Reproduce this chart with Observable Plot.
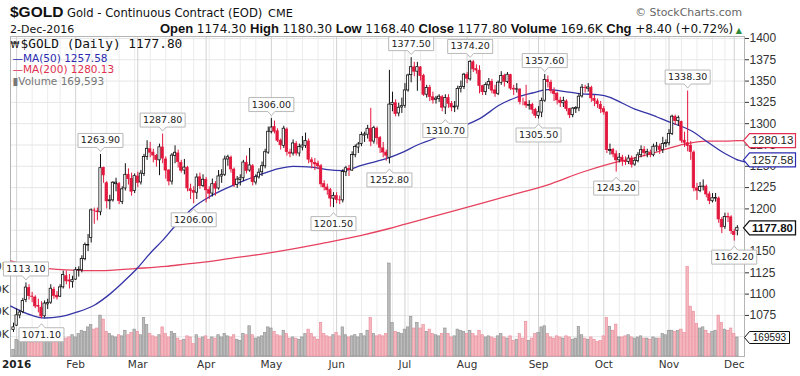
<!DOCTYPE html>
<html><head><meta charset="utf-8">
<script src="https://cdn.jsdelivr.net/npm/d3@7"></script>
<script src="https://cdn.jsdelivr.net/npm/@observablehq/plot@0.6"></script>
<style>
body{margin:0;background:#fff;width:800px;height:376px;overflow:hidden;position:relative;}
#hdr{position:absolute;left:0;top:0;}
#chart{position:absolute;left:0;top:26px;width:800px;height:350px;}
#chart svg{position:absolute;left:0;top:0;}
</style></head><body>
<svg id="hdr" width="800" height="36" xmlns="http://www.w3.org/2000/svg">
  <text x="10" y="17" style="font:bold 15.5px 'Liberation Sans',Arial,sans-serif" fill="#111">$GOLD</text>
  <text x="67" y="17" style="font:11.6px 'DejaVu Sans',sans-serif" fill="#111">Gold - Continuous Contract (EOD)</text>
  <text x="268" y="17" style="font:11.3px 'DejaVu Sans',sans-serif" fill="#111">CME</text>
  <text x="742" y="16" text-anchor="end" style="font:10.9px 'DejaVu Sans',sans-serif" fill="#666">© StockCharts.com</text>
  <text x="10" y="33" style="font:11px 'DejaVu Sans',sans-serif" fill="#111">2-Dec-2016</text>
  <text id="quote" x="742" y="33" text-anchor="end" style="font:12px 'DejaVu Sans',sans-serif" fill="#111"></text>
</svg>
<div id="chart"></div>
<script>
// ---------- data ----------
const symbol = "$GOLD";
const lastDate = "2-Dec-2016";
const quoteLabels = ["Open", "High", "Low", "Close", "Volume", "Chg"];
const quoteValues = ["1174.30", "1180.30", "1168.40", "1177.80", "169.6K", "+8.40 (+0.72%)"];
const holidays = ["2016-01-01","2016-01-18","2016-02-15","2016-03-25","2016-05-30","2016-07-04","2016-09-05","2016-11-24"];
const monthLabels = ["2016","Feb","Mar","Apr","May","Jun","Jul","Aug","Sep","Oct","Nov","Dec"];

const openP = [
1058,1063,1075,1079,1093,1107,1097,1096,1086,1084,
1074,1088,1090,1105,1098,1097,1108,1121,1116,1114,
1117,1128,1128,1141,1157,1166,1198,1197,1196,1248,
1230,1209,1210,1229,1229,1208,1224,1240,1235,1221,
1238,1231,1241,1261,1270,1266,1262,1257,1272,1258,
1245,1232,1262,1265,1254,1245,1248,1223,1221,1219,
1237,1227,1234,1222,1218,1229,1224,1238,1240,1258,
1260,1246,1228,1234,1236,1254,1245,1250,1231,1237,
1243,1250,1266,1290,1296,1291,1280,1274,1293,1266,
1265,1276,1265,1272,1274,1279,1257,1254,1253,1250,
1229,1225,1222,1212,1215,1210,1210,1243,1247,1245,
1263,1272,1276,1286,1287,1294,1279,1294,1283,1271,
1266,1260,1322,1324,1312,1319,1321,1339,1357,1366,
1361,1366,1356,1334,1342,1331,1328,1329,1331,1319,
1330,1323,1319,1320,1341,1343,1357,1352,1372,1364,
1362,1344,1337,1345,1349,1339,1335,1348,1356,1349,
1357,1341,1340,1340,1325,1325,1321,1322,1316,1309,
1313,1327,1351,1348,1338,1335,1327,1324,1326,1317,
1310,1317,1318,1332,1342,1341,1342,1329,1326,1322,
1317,1313,1268,1269,1264,1257,1260,1256,1255,1259,
1252,1256,1263,1269,1265,1266,1263,1273,1273,1269,
1276,1277,1288,1308,1303,1302,1280,1277,1274,1266,
1224,1221,1226,1226,1217,1209,1212,1212,1187,1179,
1190,1190,1173,1174.3];
const highP = [
1066,1082.5,1081,1095,1113.1,1111,1102,1098,1094,1091,
1092,1094,1111,1108,1103,1111,1127,1127,1123,1121,
1131,1132,1145,1160,1170,1200,1201,1201,1263.9,1249,
1232,1216,1232,1236,1231,1226,1253,1247,1242,1241,
1243,1245,1264,1280,1278,1270,1264,1276,1287.8,1261,
1246,1265,1274,1269,1257,1258,1250,1229,1226,1241,
1242,1240,1237,1226,1235,1232,1245,1246,1262,1263,
1262,1248,1238,1240,1257,1262,1271,1252,1240,1247,
1255,1270,1296,1306,1303,1294,1282,1297,1295,1270,
1281,1279,1276,1285,1289,1282,1260,1259,1256,1252,
1233,1229,1224,1219,1219,1215,1246,1250,1251,1267,
1275,1278,1290,1290,1298,1318,1297,1296,1285,1278,
1269,1362.6,1337,1328,1324,1330,1347,1358,1377.5,1372,
1372,1367,1358,1345,1345,1337,1332,1334,1333,1334,
1334,1326,1326,1344,1350,1359,1360,1374.2,1374,1369,
1368,1345,1348,1353,1352,1345,1350,1361,1358,1360,
1358,1345,1347,1341,1330,1345,1327,1324,1318,1320,
1330,1357.6,1356,1351,1342,1337,1331,1331,1328,1318,
1319,1320,1335,1346,1345,1347,1344,1333,1329,1326,
1320,1314,1276,1271,1268,1265,1263,1261,1263,1262,
1260,1266,1274,1273,1270,1269,1276,1278,1276,1284,
1281,1293,1310,1310,1309,1303,1290,1338.3,1279,1268,
1230,1231,1234,1228,1220,1218,1218,1214,1190,1195,
1195,1192,1176,1180.3];
const lowP = [
1055,1062,1071,1077,1090,1093,1090,1083,1078,1071.1,
1072,1082,1088,1094,1093,1096,1106,1111,1106,1107,
1116,1120,1125,1139,1150,1160,1182,1186,1192,1230,
1200,1199,1208,1220,1205,1205,1221,1228,1215,1218,
1225,1228,1238,1257,1260,1254,1249,1239,1253,1235,
1227,1228,1253,1248,1242,1240,1220,1211,1206,1211,
1223,1225,1207,1211,1214,1215,1222,1230,1238,1250,
1242,1225,1224,1227,1232,1241,1243,1227,1228,1235,
1238,1247,1264,1288,1288,1278,1269,1271,1262,1260,
1262,1262,1261,1268,1271,1253,1247,1245,1246,1225,
1221,1216,1202,1201.5,1206,1205,1207,1238,1238,1244,
1260,1265,1273,1278,1282,1273,1276,1275,1265,1260,
1256,1252.8,1314,1308,1308,1312,1318,1337,1348,1355,
1338,1350,1332,1330,1326,1323,1323,1325,1314,1310.7,
1318,1314,1313,1316,1336,1340,1347,1350,1360,1358,
1335,1333,1333,1340,1335,1331,1333,1345,1343,1347,
1339,1333,1336,1322,1321,1318,1316,1311,1306,1305.5,
1307,1325,1342,1335,1326,1322,1319,1319,1314,1306,
1307,1312,1314,1330,1336,1337,1325,1320,1318,1312,
1310,1265,1263,1260,1243.2,1254,1250,1251,1252,1248,
1250,1254,1260,1261,1260,1260,1261,1267,1264,1265,
1272,1274,1286,1298,1297,1277,1272,1267,1257,1220,
1210,1219,1221,1213,1205,1207,1208,1183,1171,1176,
1184,1170,1162.2,1168.4];
const closeP = [
1061,1075.1,1078.4,1091.9,1107.7,1097.8,1096.9,1085.6,1085.3,1073.7,
1088.9,1089.6,1106.3,1098.0,1096.1,1107.9,1122.5,1115.1,1114.9,1116.4,
1128.0,1128.2,1141.1,1157.5,1157.6,1198.3,1197.9,1196.2,1247.8,1239.4,
1208.9,1210.1,1230.7,1230.8,1209.4,1223.0,1240.0,1235.0,1220.2,1238.4,
1230.6,1241.4,1260.9,1270.5,1266.0,1262.6,1257.4,1272.3,1259.1,1245.0,
1232.3,1262.6,1265.9,1255.0,1244.8,1248.5,1224.1,1220.9,1219.0,1236.8,
1226.9,1234.2,1221.9,1217.9,1229.0,1223.8,1238.1,1240.0,1258.0,1260.6,
1246.4,1227.8,1234.4,1235.8,1254.4,1244.5,1251.0,1231.6,1237.2,1242.5,
1250.1,1266.5,1290.5,1295.5,1290.7,1280.0,1274.7,1294.1,1266.8,1264.8,
1276.8,1265.0,1272.7,1274.3,1279.8,1257.8,1254.6,1252.3,1250.0,1228.8,
1225.3,1221.9,1212.1,1215.3,1210.6,1210.1,1243.3,1247.7,1245.7,1263.2,
1272.7,1275.6,1286.6,1287.4,1294.0,1279.0,1294.8,1283.0,1271.8,1266.2,
1262.5,1322.4,1324.4,1311.3,1318.7,1320.6,1339.0,1356.6,1366.3,1361.0,
1366.3,1356.0,1334.0,1341.8,1331.4,1327.5,1329.5,1331.7,1318.8,1330.2,
1323.4,1319.1,1320.0,1340.8,1343.0,1357.5,1352.8,1372.6,1363.8,1362.4,
1344.4,1337.0,1345.4,1349.0,1338.8,1335.2,1348.1,1356.0,1349.2,1357.4,
1341.2,1340.1,1340.4,1325.6,1325.0,1321.4,1321.8,1316.3,1309.3,1313.4,
1326.7,1351.2,1348.7,1338.5,1334.9,1327.4,1324.3,1326.7,1317.2,1310.0,
1317.7,1318.5,1331.7,1342.3,1341.8,1342.5,1329.7,1326.7,1322.9,1317.1,
1313.3,1269.0,1269.1,1264.0,1257.0,1260.1,1256.0,1254.9,1259.1,1251.9,
1256.5,1262.9,1268.9,1265.6,1266.7,1263.4,1272.9,1273.4,1269.3,1276.2,
1277.3,1288.0,1308.2,1303.2,1306.8,1280.0,1277.6,1274.0,1266.9,1224.3,
1221.4,1225.8,1226.2,1216.9,1209.4,1212.5,1212.7,1187.7,1178.4,1190.6,
1190.4,1173.9,1169.4,1177.8];
const volumeK = [
60,150,140,160,190,170,120,140,150,190,
210,130,200,170,150,130,170,160,170,190,
170,200,230,220,260,280,240,250,365,330,
220,200,180,170,190,180,230,190,210,240,
220,190,345,280,200,180,170,190,260,200,
170,220,200,160,140,150,180,170,110,190,
160,170,180,150,170,160,190,170,200,180,
170,190,150,140,200,190,270,190,160,170,
180,210,260,250,220,190,180,230,200,160,
170,160,150,170,200,240,200,170,150,300,
200,180,170,190,210,180,260,190,170,180,
190,170,200,180,230,345,200,180,190,180,
200,830,300,220,210,200,240,260,355,250,
300,250,280,220,240,200,190,180,200,250,
200,170,180,240,230,220,200,230,200,180,
230,190,170,180,170,160,180,200,170,160,
180,140,150,200,160,310,140,160,200,210,
260,270,200,170,160,180,170,160,180,170,
150,160,265,190,160,150,170,150,130,140,
180,345,265,230,285,170,170,180,190,170,
160,170,180,160,160,150,170,160,160,200,
190,230,230,220,230,240,210,800,445,400,
290,250,260,230,200,220,230,365,300,240,
230,250,200,169.593];

const ma50Idx = [-0.9,6,10,15,20,26,31,37,40,44,48,52,58,63,69,74,80,85,90,96,101,106,112,116,120,125,130,135,140,146,151,156,162,167,172,177,183,188,192,196,200,205,211,218,224,229,233];
const ma50Val = [1086,1075,1072,1073.5,1078.5,1087,1100,1120,1131,1148,1163,1180,1202,1214,1225,1233,1241,1247,1250,1249,1246,1245,1251,1255,1259,1266,1275,1282,1290,1299,1308,1321,1331,1336,1340,1338,1335,1334,1331,1324,1317,1311,1302,1292,1277,1265,1257.58];
const ma200Idx = [-0.9,7,17,28,39,49,56,60,70,80,90,100,112,121,130,140,150,160,173,183,191,199,205,210,216,223,228,233];
const ma200Val = [1139,1132,1128.5,1127.5,1130,1132.5,1135.5,1137,1142,1147,1153,1160,1169,1177,1186,1196,1206,1216,1229.5,1243,1252,1259,1264.5,1270,1276,1279.5,1279.5,1280.13];

const highLabelIdx = [4, 28, 48, 83, 128, 147, 171, 217];
const lowLabelIdx = [9, 58, 103, 121, 139, 169, 194, 232];
const priceTicks = [1075,1100,1125,1150,1175,1200,1225,1250,1275,1300,1325,1350,1375,1400];
const priceGrid = [1050, ...priceTicks];
const volumeTicks = [200000, 400000, 600000, 800000];
const lastVolume = 169593;

// ---------- build tables ----------
const n = closeP.length;
[openP, highP, lowP, volumeK].forEach((a, k) => { if (a.length !== n) throw new Error("length mismatch " + k + ": " + a.length + " vs " + n); });

const tradingDays = [];
for (let d = new Date(Date.UTC(2015, 11, 31)); d <= new Date(Date.UTC(2016, 11, 2)); d.setUTCDate(d.getUTCDate() + 1)) {
  const wd = d.getUTCDay(), s = d.toISOString().slice(0, 10);
  if (wd > 0 && wd < 6 && !holidays.includes(s)) tradingDays.push(new Date(d));
}
if (tradingDays.length !== n) throw new Error("days " + tradingDays.length + " vs " + n);
const monthStarts = [], weekStarts = [];
tradingDays.forEach((d, i) => {
  if (i === 0) return;
  const p = tradingDays[i - 1];
  if (d.getUTCMonth() !== p.getUTCMonth()) monthStarts.push(i);
  else if (d.getUTCDay() <= p.getUTCDay()) weekStarts.push(i);
});
const monthTicks = monthLabels.map((label, k) => ({i: monthStarts[k], label, first: k === 0}));

const RED = "#e3173d", BLACK = "#111";
const candles = closeP.map((c, i) => {
  const up = i === 0 || c >= closeP[i - 1];
  const col = up ? BLACK : RED;
  return {i, o: openP[i], h: highP[i], l: lowP[i], c, v: volumeK[i] * 1000, up, col,
          fill: c > openP[i] ? "#ffffff" : col};
});
const ma50 = ma50Idx.map((i, k) => ({i, v: ma50Val[k]}));
const ma200 = ma200Idx.map((i, k) => ({i, v: ma200Val[k]}));
const hiAnn = highLabelIdx.map(i => ({i, v: highP[i]}));
const loAnn = lowLabelIdx.map(i => ({i, v: lowP[i]}));
const lastClose = closeP[n - 1];
const lastMa50 = ma50Val[ma50Val.length - 1], lastMa200 = ma200Val[ma200Val.length - 1];

// header quote line
const q = document.getElementById("quote");
quoteLabels.forEach((lab, k) => {
  const a = document.createElementNS("http://www.w3.org/2000/svg", "tspan");
  a.setAttribute("style", "font:bold 13px 'Liberation Sans',Arial,sans-serif");
  a.textContent = (k ? " " : "") + lab + " ";
  q.appendChild(a);
  const b = document.createElementNS("http://www.w3.org/2000/svg", "tspan");
  b.textContent = quoteValues[k];
  q.appendChild(b);
});
const tri = document.createElementNS("http://www.w3.org/2000/svg", "tspan");
tri.setAttribute("style", "font:8px 'DejaVu Sans',sans-serif"); tri.setAttribute("fill", "#2e8b3a");
tri.textContent = " ▲"; q.appendChild(tri);

// ---------- plots ----------
const W = 800, H = 350, ML = 10, MR = 56, MT = 10, MB = 20;
const xDomain = [-0.97, 235.3];
const yDomain = [1026.8, 1402.3];
const common = {width: W, height: H, marginLeft: ML, marginRight: MR, marginTop: MT, marginBottom: MB};
const xEdge = xDomain[1];

const calloutDown = {draw(ctx) { const w = 22.5, h = 7, p = 4; ctx.moveTo(-w, -h); ctx.lineTo(w, -h); ctx.lineTo(w, h); ctx.lineTo(3.5, h); ctx.lineTo(0, h + p); ctx.lineTo(-3.5, h); ctx.lineTo(-w, h); ctx.closePath(); }};
const calloutUp = {draw(ctx) { const w = 22.5, h = 7, p = 4; ctx.moveTo(-w, -h); ctx.lineTo(-3.5, -h); ctx.lineTo(0, -h - p); ctx.lineTo(3.5, -h); ctx.lineTo(w, -h); ctx.lineTo(w, h); ctx.lineTo(-w, h); ctx.closePath(); }};
const tagBig = {draw(ctx) { ctx.moveTo(-28, 0); ctx.lineTo(-22, -7); ctx.lineTo(24, -7); ctx.lineTo(24, 7); ctx.lineTo(-22, 7); ctx.closePath(); }};
const tagSmall = {draw(ctx) { ctx.moveTo(-25, 0); ctx.lineTo(-20, -6); ctx.lineTo(20, -6); ctx.lineTo(20, 6); ctx.lineTo(-20, 6); ctx.closePath(); }};

const gridPlot = Plot.plot({
  ...common,
  style: {background: "transparent", fontFamily: "'Liberation Sans', Arial, sans-serif", fontSize: "12px", color: "#333"},
  x: {domain: xDomain, axis: null},
  y: {domain: yDomain, axis: "right", ticks: priceTicks, tickSize: 4, tickPadding: 1, tickFormat: d => String(d), label: null},
  marks: [
    Plot.ruleX(weekStarts, {stroke: "#ececec"}),
    Plot.ruleY(priceGrid, {stroke: "#e6e6e6"}),
    Plot.ruleX(monthStarts, {stroke: "#d2d2d2"}),
    Plot.frame({stroke: "#b4b4b4"}),
    Plot.text(monthTicks.filter(d => d.first), {x: "i", frameAnchor: "bottom", dy: 11, text: "label", fontFamily: "'DejaVu Sans', sans-serif", fontSize: 10.5, fontWeight: "bold", fill: "#222"}),
    Plot.text(monthTicks.filter(d => !d.first), {x: "i", frameAnchor: "bottom", dy: 11, text: "label", fontFamily: "'DejaVu Sans', sans-serif", fontSize: 10.5, fill: "#333"})
  ]
});

const volPlot = Plot.plot({
  ...common,
  style: {background: "transparent", fontFamily: "'DejaVu Sans', sans-serif", fontSize: "11px", color: "#333"},
  x: {domain: xDomain, axis: null},
  y: {domain: [0, 2857143], axis: "left", ticks: volumeTicks, tickSize: 0, tickPadding: 1.5, tickFormat: d => d / 1000 + "K", label: null},
  marks: [
    Plot.rect(candles.filter(d => d.up), {x1: d => d.i - 0.4, x2: d => d.i + 0.4, y1: 0, y2: "v", fill: "#b0b0b0", stroke: "#8e8e8e", strokeWidth: 0.6, fillOpacity: 0.85}),
    Plot.rect(candles.filter(d => !d.up), {x1: d => d.i - 0.4, x2: d => d.i + 0.4, y1: 0, y2: "v", fill: "#f3aab3", stroke: "#e98a9a", strokeWidth: 0.6, fillOpacity: 0.85}),
    Plot.dot([lastVolume], {x: () => xEdge, y: d => d, dx: 25, symbol: tagSmall, fill: "white", stroke: "#111", strokeWidth: 1, r: 5}),
    Plot.text([lastVolume], {x: () => xEdge, y: d => d, dx: 25, text: d => String(d), fontFamily: "'Liberation Sans', Arial, sans-serif", fontSize: 10, fill: "#111"})
  ]
});

const txt = {fontFamily: "'DejaVu Sans', sans-serif", fontSize: 9.5, fill: "#222"};
const pricePlot = Plot.plot({
  ...common,
  style: {background: "transparent", fontFamily: "'DejaVu Sans', sans-serif", fontSize: "11px"},
  x: {domain: xDomain, axis: null},
  y: {domain: yDomain, axis: null},
  color: {type: "identity"},
  marks: [
    Plot.line(ma200, {x: "i", y: "v", stroke: "#e6425f", strokeWidth: 1.3, curve: "monotone-x"}),
    Plot.line([{i: ma200Idx[ma200Idx.length - 1], v: lastMa200}, {i: xEdge, v: lastMa200}], {x: "i", y: "v", stroke: "#e6425f", strokeWidth: 1.3}),
    Plot.line(ma50, {x: "i", y: "v", stroke: "#3434a6", strokeWidth: 1.3, curve: "monotone-x"}),
    Plot.line([{i: ma50Idx[ma50Idx.length - 1], v: lastMa50}, {i: xEdge, v: lastMa50 - 2.5}], {x: "i", y: "v", stroke: "#3434a6", strokeWidth: 1.3}),
    Plot.ruleX(candles, {x: "i", y1: "l", y2: "h", stroke: "col", strokeWidth: 1}),
    Plot.rect(candles, {x1: d => d.i - 0.37, x2: d => d.i + 0.37, y1: d => Math.min(d.o, d.c), y2: d => Math.max(d.o, d.c), fill: "fill", stroke: "col", strokeWidth: 0.8}),
    // callouts
    Plot.dot(hiAnn, {x: "i", y: "v", dy: -14, symbol: calloutDown, fill: "white", stroke: "#b8b8b8", strokeWidth: 1, r: 5}),
    Plot.text(hiAnn, {x: "i", y: "v", dy: -14, text: d => d.v.toFixed(2), ...txt}),
    Plot.dot(loAnn, {x: "i", y: "v", dy: 16, symbol: calloutUp, fill: "white", stroke: "#b8b8b8", strokeWidth: 1, r: 5}),
    Plot.text(loAnn, {x: "i", y: "v", dy: 16, text: d => d.v.toFixed(2), ...txt}),
    // legend
    Plot.text([0], {frameAnchor: "top-left", dx: 0, dy: 11, lineAnchor: "bottom", textAnchor: "start", text: () => "₩", fontFamily: "'DejaVu Sans', sans-serif", fontSize: 9, fill: "#111"}),
    Plot.text([0], {frameAnchor: "top-left", dx: 10, dy: 11, lineAnchor: "bottom", textAnchor: "start", text: () => symbol + " (Daily) " + lastClose.toFixed(2), fontFamily: "'DejaVu Sans Mono', monospace", fontSize: 12.8, fill: "#111"}),
    Plot.text([0], {frameAnchor: "top-left", dx: 2, dy: 25, lineAnchor: "bottom", textAnchor: "start", text: () => "—MA(50) " + lastMa50.toFixed(2), fontFamily: "'DejaVu Sans', sans-serif", fontSize: 10.5, fill: "#2b2bb0"}),
    Plot.text([0], {frameAnchor: "top-left", dx: 2, dy: 36, lineAnchor: "bottom", textAnchor: "start", text: () => "—MA(200) " + lastMa200.toFixed(2), fontFamily: "'DejaVu Sans', sans-serif", fontSize: 10.5, fill: "#e0304f"}),
    Plot.text([0], {frameAnchor: "top-left", dx: 2, dy: 48, lineAnchor: "bottom", textAnchor: "start", text: () => "▮Volume " + d3.format(",")(lastVolume), fontFamily: "'DejaVu Sans', sans-serif", fontSize: 10.5, fill: "#777"}),
    // right value tags
    Plot.dot([lastMa200], {x: () => xEdge, y: d => d, dx: 27, symbol: tagBig, fill: "white", stroke: "#e0304f", strokeWidth: 1.2, r: 5}),
    Plot.text([lastMa200], {x: () => xEdge, y: d => d, dx: 28, text: d => d.toFixed(2), fontFamily: "'Liberation Sans', Arial, sans-serif", fontSize: 11.5, fill: "#222"}),
    Plot.dot([lastMa50], {x: () => xEdge, y: d => d, dx: 27, symbol: tagBig, fill: "white", stroke: "#2b2bb0", strokeWidth: 1.2, r: 5}),
    Plot.text([lastMa50], {x: () => xEdge, y: d => d, dx: 28, text: d => d.toFixed(2), fontFamily: "'Liberation Sans', Arial, sans-serif", fontSize: 11.5, fill: "#222"}),
    Plot.dot([lastClose], {x: () => xEdge, y: d => d, dx: 27, symbol: tagBig, fill: "white", stroke: "#111", strokeWidth: 1.3, r: 5}),
    Plot.text([lastClose], {x: () => xEdge, y: d => d, dx: 28, text: d => d.toFixed(2), fontFamily: "'Liberation Sans', Arial, sans-serif", fontSize: 11.5, fontWeight: "bold", fill: "#111"})
  ]
});

const chart = document.getElementById("chart");
chart.appendChild(gridPlot);
chart.appendChild(volPlot);
chart.appendChild(pricePlot);
</script>
</body></html>
